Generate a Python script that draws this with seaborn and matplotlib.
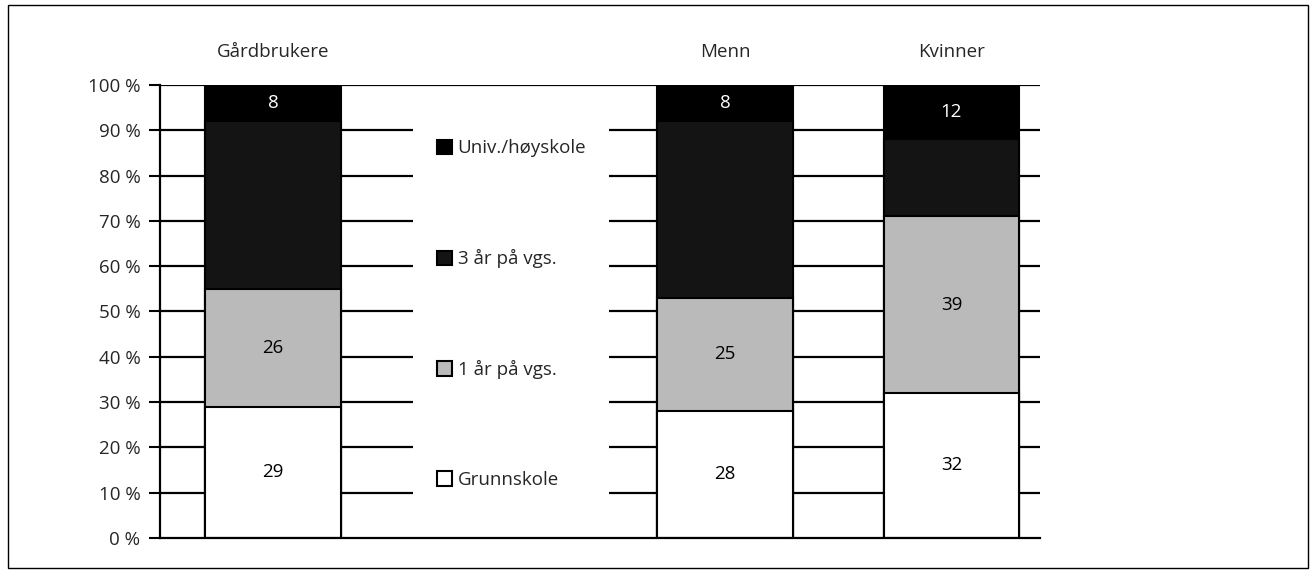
import pandas as pd
import matplotlib.pyplot as plt
import seaborn as sns
from matplotlib.patches import Patch, Rectangle

# Data (percent)
groups = ["Gårdbrukere", "Menn", "Kvinner"]
slot_order = ["Gårdbrukere", " ", "Menn", "Kvinner"]  # blank slot holds the legend
levels = ["Grunnskole", "1 år på vgs.", "3 år på vgs.", "Univ./høyskole"]
grunnskole = [29, 28, 32]
ett_aar_vgs = [26, 25, 39]
tre_aar_vgs = [37, 39, 17]
univ = [8, 8, 12]
show_label = [True, True, False, True]

colors = ["#ffffff", "#bababa", "#141414", "#000000"]
text_colors = ["black", "black", "white", "white"]
FS = 13.5

df = pd.DataFrame({
    "gruppe": groups,
    "Grunnskole": grunnskole,
    "1 år på vgs.": ett_aar_vgs,
    "3 år på vgs.": tre_aar_vgs,
    "Univ./høyskole": univ,
})
cum = df[levels].cumsum(axis=1)

sns.set_theme(style="white")
plt.rcParams["font.family"] = ["Open Sans", "DejaVu Sans"]

fig = plt.figure(figsize=(13.11, 5.74), dpi=100)
ax = fig.add_axes([0.122, 0.063, 0.671, 0.789])

# horizontal grid lines behind the bars
for v in range(10, 101, 10):
    ax.axhline(v, color="black", lw=1.6, zorder=0)
# blank area behind the legend (grid lines are interrupted there)
ax.add_patch(Rectangle((0.2875, 0.05), 0.2235, 0.9, transform=ax.transAxes,
                       facecolor="white", edgecolor="none", zorder=1))

# stacked bars: draw cumulative totals from top level down
for i in range(len(levels) - 1, -1, -1):
    plot_df = pd.DataFrame({"gruppe": groups, "verdi": cum[levels[i]]})
    sns.barplot(data=plot_df, x="gruppe", y="verdi", order=slot_order,
                color=colors[i], edgecolor="black", linewidth=1.5,
                width=0.6, saturation=1, ax=ax, zorder=2)

# value labels in the middle of each segment
for j, g in enumerate(groups):
    xpos = slot_order.index(g)
    for i, lev in enumerate(levels):
        if not show_label[i]:
            continue
        top = cum.loc[j, lev]
        val = df.loc[j, lev]
        ax.text(xpos, top - val / 2, str(val), ha="center", va="center",
                fontsize=FS, color=text_colors[i], zorder=3)

ax.set_xlim(-0.5, 3.39)
ax.set_ylim(0, 100)
ax.set_yticks(range(0, 101, 10))
ax.set_yticklabels([f"{v} %" for v in range(0, 101, 10)], fontsize=FS)
ax.tick_params(axis="y", left=True, length=8, width=1.5, color="black", pad=6)
ax.xaxis.tick_top()
ax.set_xticks(range(len(slot_order)))
ax.set_xticklabels(["Gårdbrukere", "", "Menn", "Kvinner"], fontsize=FS)
ax.tick_params(axis="x", top=False, bottom=False, pad=11)
ax.set_xlabel("")
ax.set_ylabel("")

for s in ["top", "right"]:
    ax.spines[s].set_visible(False)
ax.spines["left"].set_color("black")
ax.spines["left"].set_linewidth(1.6)
ax.spines["bottom"].set_color("black")
ax.spines["bottom"].set_linewidth(1.6)

handles = [Patch(facecolor=colors[i], edgecolor="black", linewidth=1.5, label=levels[i])
           for i in range(len(levels) - 1, -1, -1)]
leg = ax.legend(handles=handles, loc="upper left", bbox_to_anchor=(0.315, 0.88),
                frameon=False, fontsize=FS, handlelength=0.8, handleheight=0.8,
                handletextpad=0.3, labelspacing=4.9, borderaxespad=0, borderpad=0)
leg.set_zorder(4)

# outer frame around the whole figure
fig.patches.append(Rectangle((0.006, 0.01), 0.992, 0.981, transform=fig.transFigure,
                             fill=False, edgecolor="black", linewidth=1))

plt.savefig("out.png", dpi=100)
